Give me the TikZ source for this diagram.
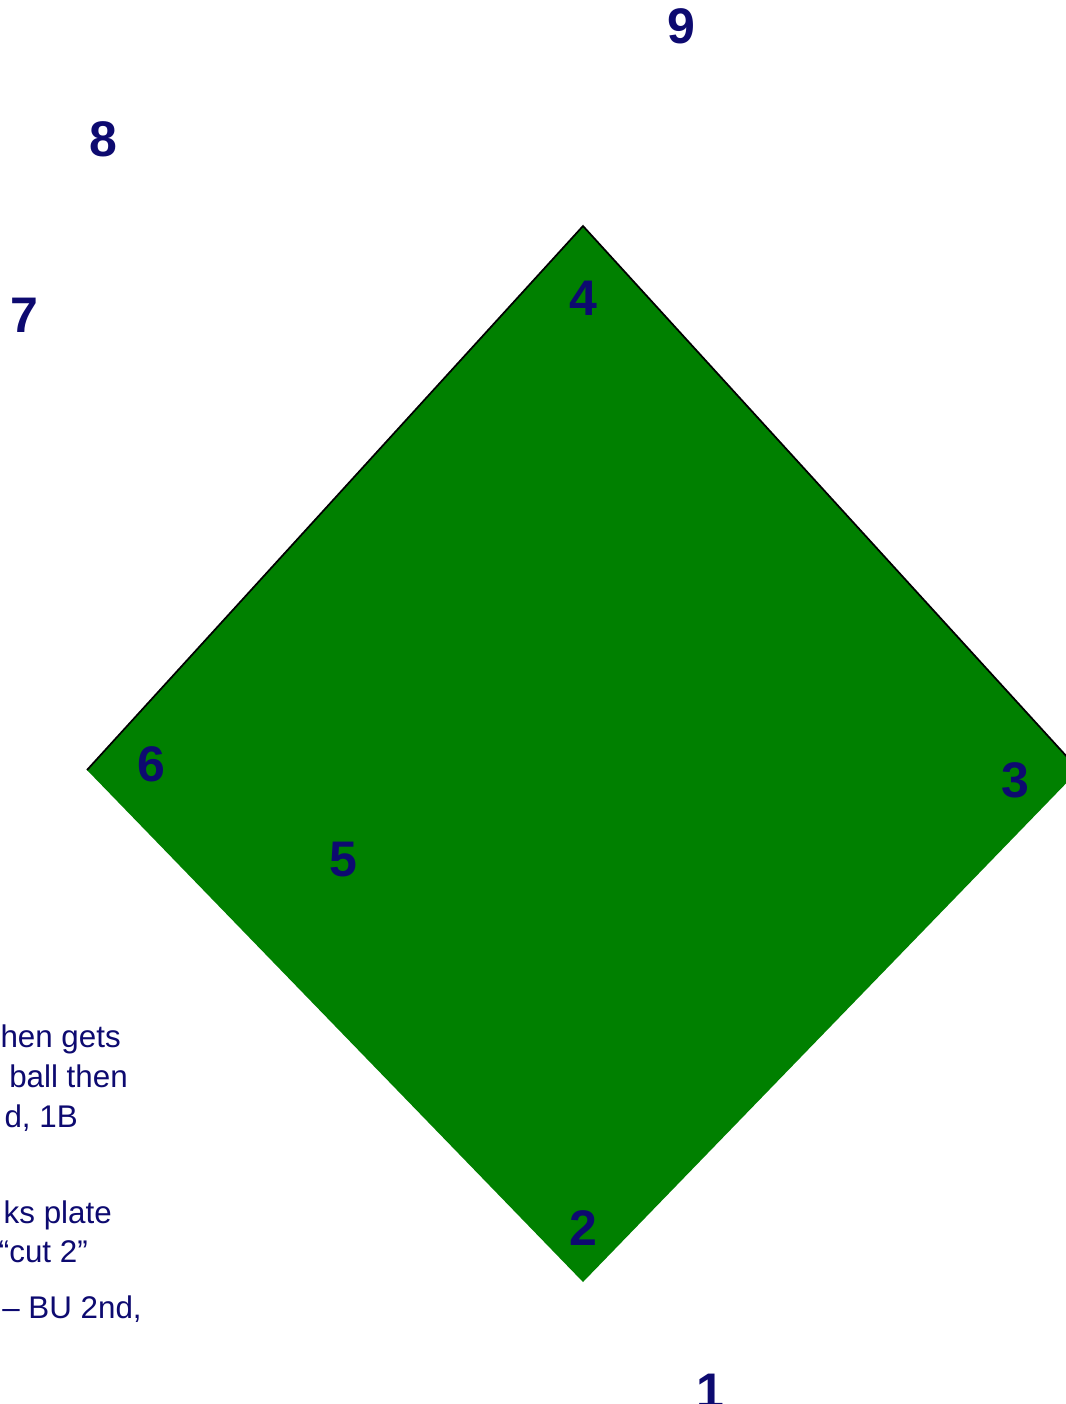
\documentclass[tikz,border=0pt]{standalone}
\usepackage{fontspec}
\setmainfont{Liberation Sans}
\definecolor{fieldgreen}{RGB}{0,128,0}
\definecolor{labelnavy}{RGB}{13,10,112}
\begin{document}
\begin{tikzpicture}[x=0.75pt,y=-0.75pt,
  poslabel/.style={font=\bfseries\fontsize{37.5}{40}\selectfont,text=labelnavy,inner sep=0pt,anchor=base},
  notetext/.style={font=\fontsize{23.5}{28}\selectfont,text=labelnavy,inner sep=0pt,anchor=base east}]
\useasboundingbox (0,0) rectangle (1066,1404);
\clip (0,0) rectangle (1066,1404);
% diamond corners
\coordinate (top) at (583,226);
\coordinate (left) at (87,770);
\coordinate (bottom) at (583,1282);
\coordinate (right) at (1079,770);
\fill[fieldgreen] (top) -- (right) -- (bottom) -- (left) -- cycle;
\draw[black,line width=1.3pt,line join=miter] (left) -- (top) -- (right);
% position numbers
\node[poslabel] (p9) at (681,43) {9};
\node[poslabel] (p8) at (103,156) {8};
\node[poslabel] (p7) at (24,332) {7};
\node[poslabel] (p4) at (583,315) {4};
\node[poslabel] (p6) at (151,781) {6};
\node[poslabel] (p3) at (1015,797) {3};
\node[poslabel] (p5) at (343,876) {5};
\node[poslabel] (p2) at (583,1245) {2};
\node[poslabel] (p1) at (710,1408) {1};
% clipped notes
\node[notetext] (n1) at (121,1047) {hen gets};
\node[notetext] (n2) at (128,1087) {ball then};
\node[notetext] (n3) at (78,1127) {d, 1B};
\node[notetext] (n4) at (112,1223) {ks plate};
\node[notetext] (n5) at (88,1262) {“cut 2”};
\node[notetext] (n6) at (142,1318) {– BU 2nd,};
\end{tikzpicture}
\end{document}
